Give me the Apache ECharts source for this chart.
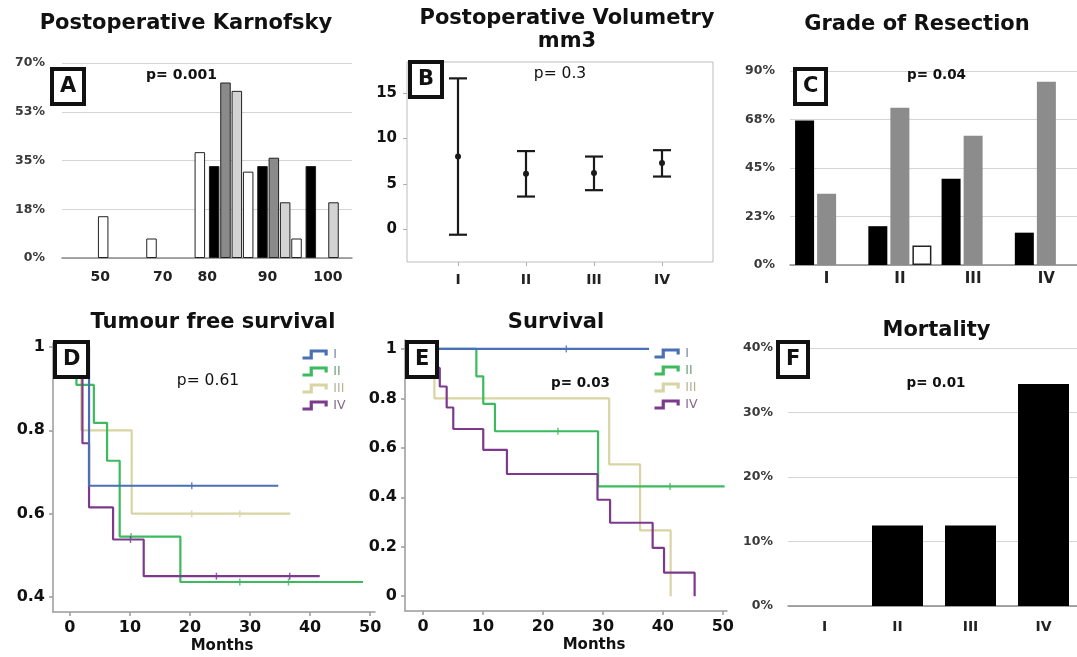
<!DOCTYPE html>
<html>
<head>
<meta charset="utf-8">
<script src="https://cdn.jsdelivr.net/npm/echarts@6/dist/echarts.min.js"></script>
<style>html,body{margin:0;padding:0;background:#fff}#c{width:1077px;height:657px}</style>
</head>
<body>
<div id="c"></div>
<script>
// ---------- DATA ----------
// A: Postoperative Karnofsky (% of patients per grade)
const kpsCategories = ['50', '60', '70', '80', '90', '100'];
const kpsTickLabels = ['50', '', '70', '80', '90', '100'];
const kpsI   = [0, 0, 0, 33, 33, 33];
const kpsII  = [0, 0, 0, 63, 36, 0];
const kpsIII = [0, 0, 0, 60, 20, 20];
const kpsIV  = [15, 7, 38, 31, 7, 0];

// B: Postoperative volumetry (mm3)
const gradeLabels = ['I', 'II', 'III', 'IV'];
const volMean = [8.0, 6.1, 6.2, 7.3];
const volLow  = [-0.6, 3.6, 4.3, 5.8];
const volHigh = [16.6, 8.6, 8.0, 8.7];

// C: Grade of resection (%)
const resBlack = [67, 18, 40, 15];
const resGray  = [33, 73, 60, 85];
const resWhite = [0, 9, 0, 0];

// D: Tumour free survival  [months, survival]
const tfsI   = [[0, 1], [3.2, 0.667], [34.7, 0.667]];
const tfsII  = [[0, 1], [1.1, 0.909], [4.0, 0.818], [6.2, 0.727], [8.3, 0.545], [18.4, 0.436], [48.8, 0.436]];
const tfsIII = [[0, 1], [1.9, 0.8], [10.3, 0.6], [36.7, 0.6]];
const tfsIV  = [[0, 1], [2.1, 0.769], [3.2, 0.615], [7.2, 0.538], [12.3, 0.45], [41.6, 0.45]];
const tfsCensI   = [[20.3, 0.667]];
const tfsCensII  = [[10.2, 0.545], [28.3, 0.436], [36.4, 0.436]];
const tfsCensIII = [[20.3, 0.6], [28.3, 0.6]];
const tfsCensIV  = [[10.1, 0.538], [24.4, 0.45], [36.6, 0.45]];

// E: Survival  [months, survival]
const osI   = [[0, 1], [37.7, 1]];
const osII  = [[0, 1], [8.9, 0.889], [10.05, 0.778], [12.0, 0.667], [29.2, 0.444], [50.3, 0.444]];
const osIII = [[0, 1], [1.9, 0.8], [31.05, 0.533], [36.2, 0.266], [41.3, 0]];
const osIV  = [[0, 1], [2.0, 0.923], [2.8, 0.848], [3.95, 0.763], [5.05, 0.676], [10.05, 0.592], [14.0, 0.494],
               [29.1, 0.39], [31.2, 0.297], [38.3, 0.195], [40.2, 0.095], [45.3, 0]];
const osCensI  = [[23.9, 1]];
const osCensII = [[22.5, 0.667], [41.2, 0.444]];

// F: Mortality (%)
const mortality = [0, 12.5, 12.5, 34.4];

// ---------- STYLE ----------
const FONT = 'DejaVu Sans';
const COL = { I: '#4b6fb6', II: '#3dba5d', III: '#d9d4a4', IV: '#7d3a8d' };
const LEG_TXT = { I: '#7a86a8', II: '#6fa07c', III: '#b5b196', IV: '#86668f' };
const kpsLabelNudge = [14, 0, -20, -24, -12, 0];

const noZero = arr => arr.map(v => (v === 0 ? null : v));

const pctLabel = { fontFamily: FONT, fontSize: 12.5, fontWeight: 'bold', color: '#3a3a3a' };
const gridLine = { show: true, lineStyle: { color: '#d4d4d4', width: 1 } };
const baseLine = { show: true, onZero: false, lineStyle: { color: '#8a8a8a', width: 1.5 } };
const kmAxisLine = { show: true, onZero: false, lineStyle: { color: '#9a9a9a', width: 1.5 } };
const kmTick = { show: true, length: 4, lineStyle: { color: '#9a9a9a', width: 1.5 } };
const kmLabel = { fontFamily: FONT, fontSize: 16, fontWeight: 'bold', color: '#111' };

// rich labels for panel A x axis
const kpsRich = {};
kpsLabelNudge.forEach((d, i) => {
  kpsRich['n' + i] = {
    fontFamily: FONT, fontSize: 14, fontWeight: 'bold', color: '#222',
    padding: d >= 0 ? [0, 0, 0, 2 * d] : [0, -2 * d, 0, 0]
  };
});

function titleText(text, x, y, size, weight) {
  return {
    text, left: x, top: y, padding: 0, textAlign: 'center', textVerticalAlign: 'middle',
    textStyle: { fontFamily: FONT, fontSize: size, fontWeight: weight, color: '#111' }
  };
}
function letterBox(text, x, y) {
  return {
    text, left: x, top: y, padding: [7, 8, 7, 8], borderWidth: 4, borderColor: '#111',
    backgroundColor: '#fff', z: 20,
    textStyle: { fontFamily: FONT, fontSize: 21, fontWeight: 'bold', color: '#111' }
  };
}

const titles = [
  titleText('Postoperative Karnofsky', 186, 24, 21, 'bold'),
  titleText('Postoperative Volumetry', 567, 18.5, 21, 'bold'),
  titleText('mm3', 567, 41.5, 21, 'bold'),
  titleText('Grade of Resection', 917, 24.5, 21, 'bold'),
  titleText('Tumour free survival', 213, 322.5, 21, 'bold'),
  titleText('Survival', 556, 322.5, 21, 'bold'),
  titleText('Mortality', 936.5, 330.5, 21, 'bold'),
  titleText('p= 0.001', 181.5, 75, 14, 'bold'),
  titleText('p= 0.3', 560, 74, 15.5, 'normal'),
  titleText('p= 0.04', 936.5, 75, 13.5, 'bold'),
  titleText('p= 0.61', 208, 381, 15.5, 'normal'),
  titleText('p= 0.03', 580.5, 383, 13.5, 'bold'),
  titleText('p= 0.01', 936, 383, 13.5, 'bold'),
  letterBox('A', 52, 69),
  letterBox('B', 410, 62),
  letterBox('C', 795, 69),
  letterBox('D', 55, 342),
  letterBox('E', 407, 342),
  letterBox('F', 778, 342)
];

const grids = [
  { left: 62, top: 63, width: 290, height: 195 },
  { left: 407, top: 62, width: 306, height: 200, show: true, borderColor: '#bdbdbd', borderWidth: 1, backgroundColor: 'transparent' },
  { left: 790, top: 71, width: 293, height: 194 },
  { left: 53, top: 343, width: 322, height: 269 },
  { left: 405, top: 340, width: 322, height: 271 },
  { left: 788, top: 348, width: 292, height: 258 }
].map(g => Object.assign({ outerBoundsMode: 'none', containLabel: false }, g));

const xAxes = [
  { type: 'category', gridIndex: 0, data: kpsCategories, axisLine: baseLine, axisTick: { show: false },
    axisLabel: { interval: 0, margin: 12, rich: kpsRich,
      formatter: (v, i) => (kpsTickLabels[i] ? '{n' + i + '|' + kpsTickLabels[i] + '}' : '') } },
  { type: 'value', gridIndex: 1, min: 0.25, max: 4.75, splitNumber: 5, splitLine: { show: false },
    axisLine: { show: false, onZero: false },
    axisTick: { show: true, length: 4, lineStyle: { color: '#b0b0b0' } },
    axisLabel: { margin: 11, showMinLabel: false, showMaxLabel: false, fontFamily: FONT, fontSize: 14, fontWeight: 'bold', color: '#222',
      formatter: v => (Math.abs(v - Math.round(v)) < 1e-6 ? (gradeLabels[Math.round(v) - 1] || '') : '') } },
  { type: 'category', gridIndex: 2, data: gradeLabels, axisLine: baseLine, axisTick: { show: false },
    axisLabel: { interval: 0, margin: 7, fontFamily: FONT, fontSize: 15, fontWeight: 'bold', color: '#222' } },
  { type: 'value', gridIndex: 3, min: -2.8, max: 50.8, splitNumber: 5, splitLine: { show: false },
    axisLine: kmAxisLine, axisTick: kmTick,
    axisLabel: Object.assign({ margin: 8, showMinLabel: false, showMaxLabel: false,
      formatter: v => (Math.abs(v / 10 - Math.round(v / 10)) < 1e-6 ? String(Math.round(v)) : '') }, kmLabel),
    name: 'Months', nameLocation: 'middle', nameGap: 27,
    nameTextStyle: { fontFamily: FONT, fontSize: 15, fontWeight: 'bold', color: '#111', padding: [0, 0, 0, 16] } },
  { type: 'value', gridIndex: 4, min: -3, max: 50.7, splitNumber: 5, splitLine: { show: false },
    axisLine: kmAxisLine, axisTick: kmTick,
    axisLabel: Object.assign({ margin: 8, showMinLabel: false, showMaxLabel: false,
      formatter: v => (Math.abs(v / 10 - Math.round(v / 10)) < 1e-6 ? String(Math.round(v)) : '') }, kmLabel),
    name: 'Months', nameLocation: 'middle', nameGap: 27,
    nameTextStyle: { fontFamily: FONT, fontSize: 15, fontWeight: 'bold', color: '#111', padding: [0, 0, 0, 56] } },
  { type: 'category', gridIndex: 5, data: gradeLabels, axisLine: baseLine, axisTick: { show: false },
    axisLabel: { interval: 0, margin: 14, fontFamily: FONT, fontSize: 14, fontWeight: 'bold', color: '#222' } }
];

const kmYFormatter = v => (Math.abs(v * 5 - Math.round(v * 5)) < 1e-6 ? String(Math.round(v * 5) / 5) : '');

const yAxes = [
  { type: 'value', gridIndex: 0, min: 0, max: 70, interval: 17.5, splitLine: gridLine, axisLine: { show: false },
    axisTick: { show: false }, axisLabel: Object.assign({ margin: 17, formatter: v => Math.round(v) + '%' }, pctLabel) },
  { type: 'value', gridIndex: 1, min: -3.6, max: 18.4, splitNumber: 5, splitLine: { show: false },
    axisLine: { show: false, onZero: false },
    axisTick: { show: true, length: 4, lineStyle: { color: '#b0b0b0' } },
    axisLabel: { margin: 10, showMinLabel: false, showMaxLabel: false, fontFamily: FONT, fontSize: 15, fontWeight: 'bold', color: '#111',
      formatter: v => (Math.abs(v / 5 - Math.round(v / 5)) < 1e-6 ? String(Math.round(v)) : '') } },
  { type: 'value', gridIndex: 2, min: 0, max: 90, interval: 22.5, splitLine: gridLine, axisLine: { show: false },
    axisTick: { show: false }, axisLabel: Object.assign({ margin: 15, formatter: v => Math.round(v) + '%' }, pctLabel) },
  { type: 'value', gridIndex: 3, min: 0.364, max: 1.0096, splitNumber: 3, splitLine: { show: false },
    axisLine: kmAxisLine, axisTick: kmTick,
    axisLabel: Object.assign({ margin: 8, showMinLabel: false, showMaxLabel: false, formatter: kmYFormatter }, kmLabel) },
  { type: 'value', gridIndex: 4, min: -0.06, max: 1.036, splitNumber: 5, splitLine: { show: false },
    axisLine: kmAxisLine, axisTick: kmTick,
    axisLabel: Object.assign({ margin: 8, showMinLabel: false, showMaxLabel: false, formatter: kmYFormatter }, kmLabel) },
  { type: 'value', gridIndex: 5, min: 0, max: 40, interval: 10, splitLine: gridLine, axisLine: { show: false },
    axisTick: { show: false }, axisLabel: Object.assign({ margin: 15, formatter: v => Math.round(v) + '%' }, pctLabel) }
];

// ---------- SERIES ----------
const series = [];
const kpsFill = [['I', kpsI, '#000000'], ['II', kpsII, '#8a8a8a'], ['III', kpsIII, '#d3d3d3'], ['IV', kpsIV, '#ffffff']];
kpsFill.forEach(([n, d, c]) => series.push({
  type: 'bar', name: 'kps' + n, xAxisIndex: 0, yAxisIndex: 0, data: noZero(d),
  barWidth: 10.5, barGap: '8%', itemStyle: { color: c, borderColor: '#222', borderWidth: 1 }
}));

series.push({
  type: 'custom', name: 'vol', xAxisIndex: 1, yAxisIndex: 1,
  data: gradeLabels.map((g, i) => [i + 1, volLow[i], volHigh[i], volMean[i]]),
  encode: { x: 0, y: [1, 2, 3] },
  renderItem: (params, api) => {
    const x = api.value(0);
    const lo = api.coord([x, api.value(1)]);
    const hi = api.coord([x, api.value(2)]);
    const m = api.coord([x, api.value(3)]);
    const hw = 9;
    const st = { stroke: '#1a1a1a', lineWidth: 2.2, fill: null };
    return { type: 'group', children: [
      { type: 'line', shape: { x1: lo[0], y1: lo[1], x2: hi[0], y2: hi[1] }, style: st },
      { type: 'line', shape: { x1: lo[0] - hw, y1: lo[1], x2: lo[0] + hw, y2: lo[1] }, style: st },
      { type: 'line', shape: { x1: hi[0] - hw, y1: hi[1], x2: hi[0] + hw, y2: hi[1] }, style: st },
      { type: 'circle', shape: { cx: m[0], cy: m[1], r: 3 }, style: { fill: '#1a1a1a' } }
    ] };
  }
});

[['B', resBlack, '#000000'], ['G', resGray, '#8c8c8c'], ['W', resWhite, '#ffffff']].forEach(([n, d, c]) => series.push({
  type: 'bar', name: 'res' + n, xAxisIndex: 2, yAxisIndex: 2, data: noZero(d),
  barWidth: 19, barGap: '16%', itemStyle: { color: c, borderColor: n === 'W' ? '#222' : c, borderWidth: n === 'W' ? 1.5 : 0 }
}));

function kmLine(name, data, ax) {
  return { type: 'line', name, xAxisIndex: ax, yAxisIndex: ax, data, step: 'end', symbol: 'none', showSymbol: false,
    lineStyle: { color: COL[name], width: 2.2 }, itemStyle: { color: COL[name] }, z: name === 'I' ? 3 : 2 };
}
function kmCens(name, data, ax) {
  return { type: 'scatter', name: 'c' + name + ax, xAxisIndex: ax, yAxisIndex: ax, data, symbol: 'rect',
    symbolSize: [1.5, 7], itemStyle: { color: COL[name], opacity: 0.8 } };
}
series.push(kmLine('III', tfsIII, 3), kmLine('II', tfsII, 3), kmLine('I', tfsI, 3), kmLine('IV', tfsIV, 3));
series.push(kmCens('I', tfsCensI, 3), kmCens('II', tfsCensII, 3), kmCens('III', tfsCensIII, 3), kmCens('IV', tfsCensIV, 3));
series.push(kmLine('III', osIII, 4), kmLine('II', osII, 4), kmLine('I', osI, 4), kmLine('IV', osIV, 4));
series.push(kmCens('I', osCensI, 4), kmCens('II', osCensII, 4));

series.push({ type: 'bar', name: 'mort', xAxisIndex: 5, yAxisIndex: 5, data: noZero(mortality),
  barWidth: 51, itemStyle: { color: '#000' } });

// ---------- LEGENDS ----------
const legIcon = 'path://M0,9 L10,9 L10,1 L27,1 L27,6';
function kmLegend(left, top) {
  return {
    left, top, orient: 'vertical', itemWidth: 28, itemHeight: 7, itemGap: 4, padding: 0, selectedMode: false,
    icon: legIcon,
    textStyle: { fontFamily: FONT, fontSize: 12.5 },
    data: gradeLabels.map(n => ({ name: n, itemStyle: { color: 'none', borderColor: COL[n], borderWidth: 3.2 },
      textStyle: { color: LEG_TXT[n], fontFamily: FONT, fontSize: 12.5 } }))
  };
}

const option = {
  animation: false,
  backgroundColor: '#fff',
  title: titles,
  grid: grids,
  xAxis: xAxes,
  yAxis: yAxes,
  legend: [kmLegend(300, 348), kmLegend(652, 347)],
  series
};

const chart = echarts.init(document.getElementById('c'), null, { renderer: 'canvas' });
chart.setOption(option);
</script>
</body>
</html>
